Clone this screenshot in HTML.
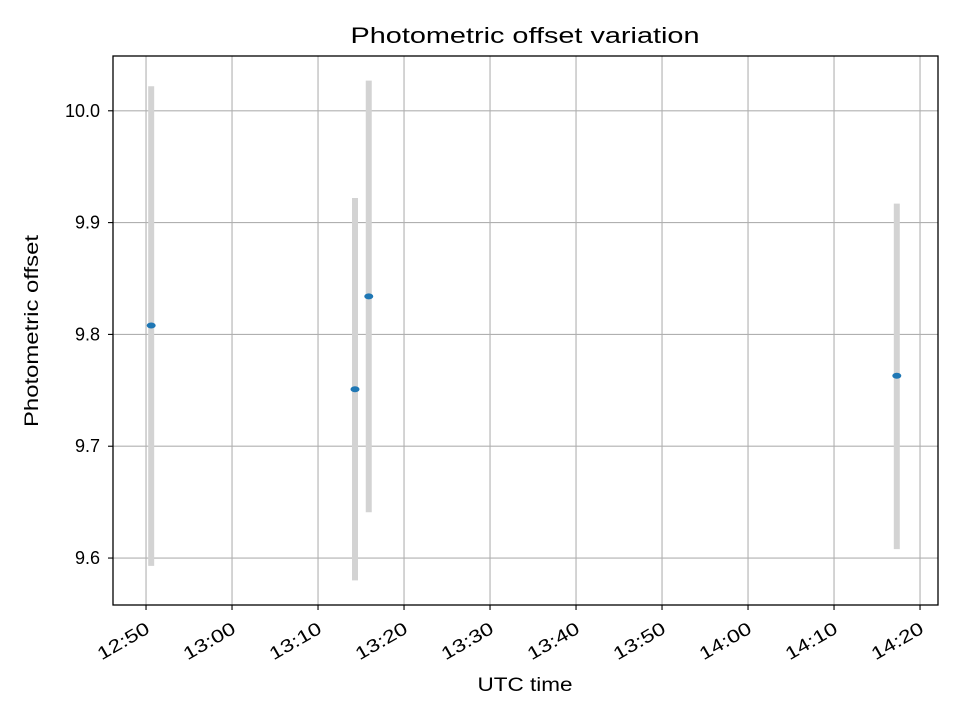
<!DOCTYPE html>
<html><head><meta charset="utf-8"><style>
body{margin:0;background:#fff;}
svg{display:block;font-family:"Liberation Sans","DejaVu Sans",sans-serif;}
</style></head><body>
<svg id="chart" width="960" height="720" viewBox="0 0 960 720" xmlns="http://www.w3.org/2000/svg">
<rect width="960" height="720" fill="#fff"/>
<text x="525" y="43" text-anchor="middle" font-size="22" textLength="349" lengthAdjust="spacingAndGlyphs" fill="#000">Photometric offset variation</text>
<g id="grid"></g>
<g id="bars"></g>
<g id="pts"></g>
<rect x="113" y="56" width="825" height="549" fill="none" stroke="#000" stroke-width="1.3"/>
<g id="ticks"></g>
<text x="525" y="691" text-anchor="middle" font-size="19" textLength="95" lengthAdjust="spacingAndGlyphs">UTC time</text>
<text transform="translate(38,331) rotate(-90)" text-anchor="middle" font-size="19" textLength="192" lengthAdjust="spacingAndGlyphs">Photometric offset</text>
</svg>
<script>
// times in minutes after 12:00
const times = [50.6, 74.3, 75.9, 137.3];
const offsets = [9.808, 9.751, 9.834, 9.763];
const errLow = [9.593, 9.580, 9.641, 9.608];
const errHigh = [10.022, 9.922, 10.027, 9.917];
const xTickLabels = ["12:50","13:00","13:10","13:20","13:30","13:40","13:50","14:00","14:10","14:20"];
const xTickValues = [50,60,70,80,90,100,110,120,130,140];
const yTickValues = [9.6,9.7,9.8,9.9,10.0];
const yTickLabels = ["9.6","9.7","9.8","9.9","10.0"];

const L=113,R=938,T=56,B=605;
const xMin=46.16,xMax=142.09,yMin=9.558,yMax=10.049;
const xs=v=>L+(v-xMin)/(xMax-xMin)*(R-L);
const ys=v=>B-(v-yMin)/(yMax-yMin)*(B-T);
const NS="http://www.w3.org/2000/svg";
function mk(tag,attrs,parent){const e=document.createElementNS(NS,tag);for(const k in attrs)e.setAttribute(k,attrs[k]);parent.appendChild(e);return e;}
const grid=document.getElementById('grid'),ticks=document.getElementById('ticks');
xTickValues.forEach((v,i)=>{
  const x=xs(v);
  const g=mk('line',{x1:x,x2:x,y1:T,y2:B,stroke:'#b0b0b0','stroke-width':1.1},grid);
  
  
  const t=mk('line',{x1:x,x2:x,y1:B,y2:B+5,stroke:'#000','stroke-width':1.1},ticks);
  
  
  const lb=mk('text',{transform:`translate(${x+5},${B+27}) rotate(-30)`,'text-anchor':'end','font-size':18,textLength:57,lengthAdjust:'spacingAndGlyphs'},ticks);
  lb.textContent=xTickLabels[i];
  
  
});
yTickValues.forEach((v,i)=>{
  const y=ys(v);
  const g=mk('line',{x1:L,x2:R,y1:y,y2:y,stroke:'#b0b0b0','stroke-width':1.1},grid);
  
  
  const t=mk('line',{x1:L-5,x2:L,y1:y,y2:y,stroke:'#000','stroke-width':1.1},ticks);
  
  
  const lb=mk('text',{x:L-13,y:y+6,'text-anchor':'end','font-size':18},ticks);
  lb.textContent=yTickLabels[i];
  
  
});
const bars=document.getElementById('bars'),pts=document.getElementById('pts');
times.forEach((t,i)=>{
  const x=xs(t);
  const b=mk('line',{x1:x,x2:x,y1:ys(errHigh[i]),y2:ys(errLow[i]),stroke:'#d3d3d3','stroke-width':6},bars);
  
  
  const p=mk('ellipse',{cx:x,cy:ys(offsets[i]),rx:4.5,ry:3,fill:'#1f77b4'},pts);
  
  
});
</script>
</body></html>
